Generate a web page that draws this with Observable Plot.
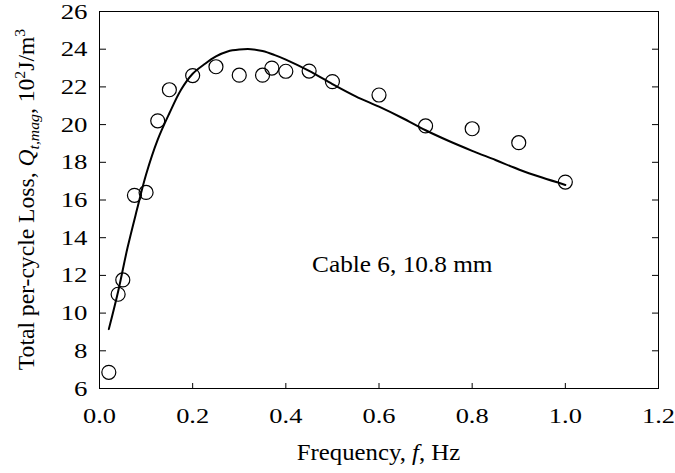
<!DOCTYPE html>
<html>
<head>
<meta charset="utf-8">
<script src="https://cdn.jsdelivr.net/npm/d3@7"></script>
<script src="https://cdn.jsdelivr.net/npm/@observablehq/plot@0.6"></script>
<style>
  html, body { margin: 0; padding: 0; background: #fff; }
  #chart svg { display: block; font-family: "Liberation Serif", "Times New Roman", serif; }
  #chart svg text { font-family: "Liberation Serif", "Times New Roman", serif; }
</style>
</head>
<body>
<div id="chart"></div>
<script>
// Measured data (circles)
const freq = [0.02, 0.04, 0.05, 0.075, 0.1, 0.125, 0.15, 0.2, 0.25, 0.3, 0.35, 0.37, 0.4, 0.45, 0.5, 0.6, 0.7, 0.8, 0.9, 1.0];
const loss = [6.86, 11.0, 11.76, 16.25, 16.4, 20.2, 21.85, 22.6, 23.07, 22.62, 22.62, 23.0, 22.83, 22.84, 22.28, 21.57, 19.93, 19.78, 19.04, 16.95];

// Fitted curve
const fitX = [0.02, 0.04, 0.06, 0.08, 0.1, 0.125, 0.15, 0.175, 0.2, 0.225, 0.25, 0.275, 0.3, 0.325, 0.35, 0.375, 0.4, 0.45, 0.5, 0.55, 0.6, 0.65, 0.7, 0.75, 0.8, 0.85, 0.9, 0.95, 1.0];
const fitY = [9.15, 11.15, 13.45, 15.45, 17.35, 19.2, 20.6, 21.85, 22.7, 23.2, 23.62, 23.88, 23.98, 24.0, 23.9, 23.7, 23.45, 22.85, 22.15, 21.5, 20.95, 20.35, 19.7, 19.13, 18.61, 18.12, 17.62, 17.19, 16.8];

// Axis ticks
const xTicks = [0, 0.2, 0.4, 0.6, 0.8, 1.0, 1.2];
const yTicks = [6, 8, 10, 12, 14, 16, 18, 20, 22, 24, 26];

// Annotation
const annotation = [{x: 0.65, y: 12.55, text: "Cable 6, 10.8 mm"}];

const W = 675, H = 473;
const mL = 99, mR = 17, mT = 11, mB = 85;
const plotW = W - mL - mR, plotH = H - mT - mB;

const points = freq.map((f, i) => ({f, q: loss[i]}));
const fit = fitX.map((f, i) => ({f, q: fitY[i]}));

const chart = Plot.plot({
  width: W,
  height: H,
  marginLeft: mL,
  marginRight: mR,
  marginTop: mT,
  marginBottom: mB,
  style: {fontFamily: "'Liberation Serif', 'Times New Roman', serif", color: "#000", background: "#fff"},
  x: {domain: [0, 1.2]},
  y: {domain: [6, 26]},
  marks: [
    // inward ticks
    Plot.ruleX(xTicks, {x: d => d, stroke: "#000", strokeWidth: 1, insetTop: plotH - 5}),
    Plot.ruleY(yTicks, {y: d => d, stroke: "#000", strokeWidth: 1, insetRight: plotW - 7}),
    Plot.ruleY(yTicks, {y: d => d, stroke: "#000", strokeWidth: 1, insetLeft: plotW - 6}),
    Plot.axisX(xTicks, {tickSize: 0, tickPadding: 19, tickFormat: d3.format(".1f"), fontSize: 22, label: null, fill: "#000"}),
    Plot.axisY(yTicks, {tickSize: 0, tickPadding: 12, tickFormat: d => String(d), fontSize: 22, label: null, fill: "#000"}),
    Plot.line(fit, {x: "f", y: "q", stroke: "#000", strokeWidth: 2, curve: "catmull-rom"}),
    Plot.dot(points, {x: "f", y: "q", r: 7, stroke: "#000", strokeWidth: 1.2, fill: "none"}),
    Plot.text(annotation, {x: "x", y: "y", text: "text", fontSize: 23, fill: "#000"}),
    Plot.frame({stroke: "#000", strokeWidth: 1})
  ]
});

const svg = d3.select(chart);

// Horizontal stretch of a text element about its anchor point
function stretch(el, sx, sy) {
  const t = el.getAttribute("transform");
  if (t) {
    el.setAttribute("transform", `${t} scale(${sx},${sy})`);
  } else {
    const x = +(el.getAttribute("x") || 0), y = +(el.getAttribute("y") || 0);
    el.setAttribute("x", 0);
    el.setAttribute("y", 0);
    el.setAttribute("transform", `translate(${x},${y}) scale(${sx},${sy})`);
  }
}

svg.selectAll('g[aria-label="x-axis tick label"] text').each(function() { stretch(this, 1.2, 1); });
svg.selectAll('g[aria-label="y-axis tick label"] text').each(function() { stretch(this, 1.22, 1); });
svg.selectAll('g[aria-label="text"] text').each(function() { stretch(this, 1.1, 1); });

// X axis label
const xl = svg.append("text")
  .attr("transform", `translate(${mL + plotW / 2},460) scale(1.1,1)`)
  .attr("text-anchor", "middle")
  .attr("font-size", 22.5)
  .attr("fill", "#000");
xl.append("tspan").text("Frequency, ");
xl.append("tspan").attr("font-style", "italic").text("f");
xl.append("tspan").text(", Hz");

// Y axis label
const yl = svg.append("text")
  .attr("transform", `translate(33.5,${mT + plotH / 2}) rotate(-90) scale(1.05,1)`)
  .attr("text-anchor", "middle")
  .attr("font-size", 22.5)
  .attr("fill", "#000");
yl.append("tspan").text("Total per-cycle Loss, ");
yl.append("tspan").attr("font-style", "italic").text("Q");
yl.append("tspan").attr("font-style", "italic").attr("font-size", 15).attr("dy", 5).text("t,mag");
yl.append("tspan").attr("dy", -5).text(", 10");
yl.append("tspan").attr("font-size", 15).attr("dy", -9).text("2");
yl.append("tspan").attr("dy", 9).text("J/m");
yl.append("tspan").attr("font-size", 15).attr("dy", -9).text("3");

svg.selectAll("text").attr("font-family", "Liberation Serif");

document.getElementById("chart").appendChild(chart);
</script>
</body>
</html>
